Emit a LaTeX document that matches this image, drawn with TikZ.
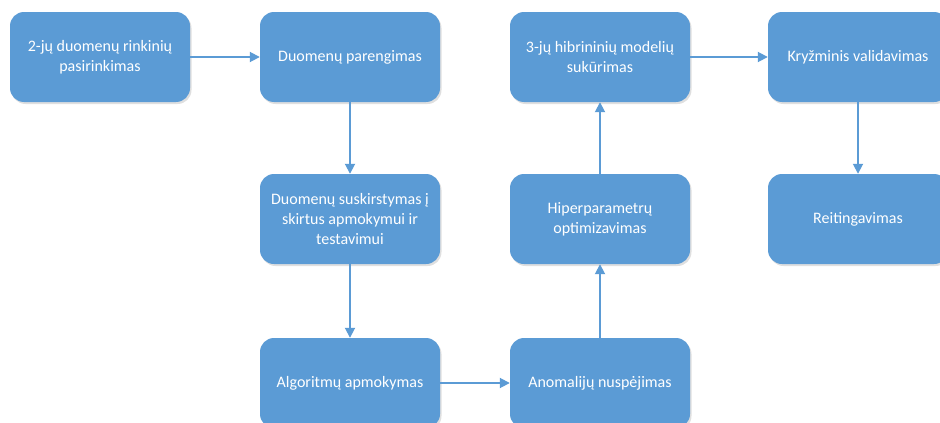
\documentclass[tikz,border=0pt]{standalone}
\usepackage{fontspec}
\setmainfont{Carlito}
\usetikzlibrary{arrows.meta, shadows}

\definecolor{boxblue}{HTML}{5B9BD5}

\begin{document}
\begin{tikzpicture}[x=1pt, y=-1pt,
    stage/.style={rectangle, rounded corners=14pt, fill=boxblue, draw=none, text=white, align=center, font=\fontsize{16}{20}\selectfont, minimum width=180pt, minimum height=90pt, inner sep=4pt, drop shadow={shadow xshift=1.5pt, shadow yshift=-2pt, opacity=0.25}},
    arrow/.style={-{Triangle[length=10pt, width=10pt]}, line width=1.8pt, draw=boxblue}
]

\useasboundingbox (0,0) rectangle (940,423);

\node[stage] (select) at (100, 57) {2-jų duomenų rinkinių\\pasirinkimas};
\node[stage] (prep) at (350, 57) {Duomenų parengimas};
\node[stage] (split) at (350, 219) {Duomenų suskirstymas į\\skirtus apmokymui ir\\testavimui};
\node[stage] (train) at (350, 383) {Algoritmų apmokymas};
\node[stage] (predict) at (600, 383) {Anomalijų nuspėjimas};
\node[stage] (tune) at (600, 219) {Hiperparametrų\\optimizavimas};
\node[stage] (hybrid) at (600, 57) {3-jų hibrininių modelių\\sukūrimas};
\node[stage] (cross) at (858, 57) {Kryžminis validavimas};
\node[stage] (rank) at (858, 219) {Reitingavimas};

\draw[arrow] (select) -- (prep);
\draw[arrow] (prep) -- (split);
\draw[arrow] (split) -- (train);
\draw[arrow] (train) -- (predict);
\draw[arrow] (predict) -- (tune);
\draw[arrow] (tune) -- (hybrid);
\draw[arrow] (hybrid) -- (cross);
\draw[arrow] (cross) -- (rank);

\end{tikzpicture}
\end{document}
